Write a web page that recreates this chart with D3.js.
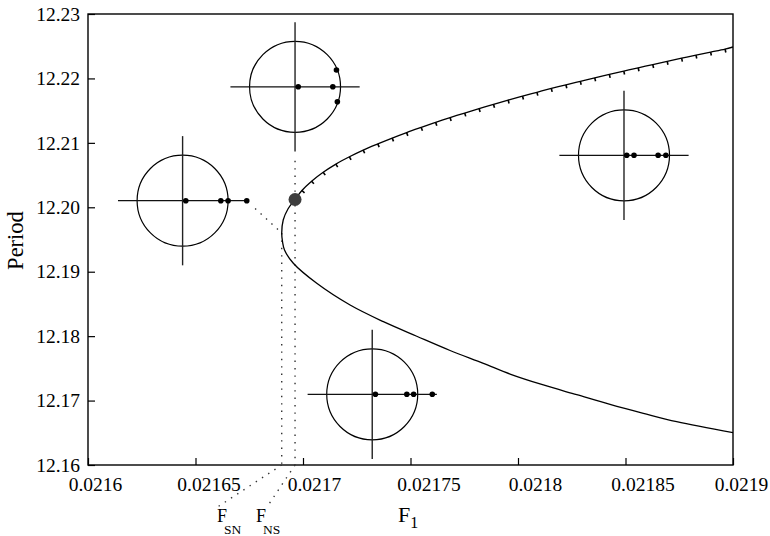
<!DOCTYPE html>
<html>
<head>
<meta charset="utf-8">
<script src="https://cdn.jsdelivr.net/npm/d3@7"></script>
<style>
  html, body { margin: 0; padding: 0; background: #fff; }
  svg { display: block; }
  text { font-family: "Liberation Serif", "Times New Roman", serif; fill: #000; }
</style>
</head>
<body>
<svg id="chart" width="770" height="536"></svg>
<script>
// Axis ticks
const xTicks = [0.0216, 0.02165, 0.0217, 0.02175, 0.0218, 0.02185, 0.0219];
const xTickLabels = ["0.0216", "0.02165", "0.0217", "0.02175", "0.0218", "0.02185", "0.0219"];
const yTicks = [12.16, 12.17, 12.18, 12.19, 12.20, 12.21, 12.22, 12.23];
const yTickLabels = ["12.16", "12.17", "12.18", "12.19", "12.20", "12.21", "12.22", "12.23"];

// Stable branch: from the right edge, through the fold (saddle-node), up towards the NS point
const branchF = [0.02190, 0.0218738, 0.0218583, 0.0218428, 0.0218273, 0.0218118, 0.0217963,
                 0.0217839, 0.0217684, 0.0217529, 0.0217374, 0.0217219, 0.0217064, 0.0216955,
                 0.0216914, 0.0216905, 0.0216901, 0.0216908, 0.0216930];
const branchT = [12.16501, 12.16672, 12.16802, 12.16940, 12.17091, 12.17242, 12.17412,
                 12.17578, 12.17777, 12.17998, 12.18224, 12.18483, 12.18820, 12.19131,
                 12.19337, 12.19461, 12.19601, 12.19803, 12.19973];

// Neimark–Sacker point
const nsF = 0.0216963;
const nsT = 12.20121;
// Saddle-node (fold) point
const snF = 0.0216901;
const snT = 12.19601;

// Marked continuation points beyond the NS point (upper branch)
const meshF = [0.0216995, 0.0217040, 0.0217094, 0.0217153, 0.0217216, 0.0217280, 0.0217348,
               0.0217415, 0.0217482, 0.0217550, 0.0217617, 0.0217684, 0.0217752, 0.0217819,
               0.0217886, 0.0217954, 0.0218021, 0.0218088, 0.0218155, 0.0218223, 0.0218290,
               0.0218357, 0.0218425, 0.0218492, 0.0218559, 0.0218627, 0.0218694, 0.0218761,
               0.0218828, 0.0218896, 0.0218963];
const meshT = [12.20261, 12.20405, 12.20543, 12.20670, 12.20784, 12.20888, 12.20984,
               12.21074, 12.21159, 12.21240, 12.21318, 12.21392, 12.21463, 12.21532,
               12.21598, 12.21664, 12.21726, 12.21785, 12.21844, 12.21900, 12.21955,
               12.22009, 12.22062, 12.22114, 12.22165, 12.22215, 12.22265, 12.22314,
               12.22362, 12.22409, 12.22456];
const upperEndF = 0.02190;
const upperEndT = 12.22488;

// Floquet multiplier diagrams: placement (F1, Period) and multipliers (re, im)
const insetF = [0.0216440, 0.0216963, 0.0218493, 0.0217322];
const insetT = [12.20102, 12.21870, 12.20807, 12.17097];
const multRe = [[0.07, 0.84, 1.00, 1.41],
                [0.07, 0.83, 0.91, 0.93],
                [0.06, 0.22, 0.75, 0.92],
                [0.07, 0.76, 0.91, 1.32]];
const multIm = [[0, 0, 0, 0],
                [0, 0, 0.37, -0.33],
                [0, 0, 0, 0],
                [0, 0, 0, 0]];

const svg = d3.select("#chart");
const margin = { left: 88, right: 37, top: 14, bottom: 71 };
const W = 770, H = 536;

const x = d3.scaleLinear().domain([0.0216, 0.0219]).range([margin.left, W - margin.right]);
const y = d3.scaleLinear().domain([12.16, 12.23]).range([H - margin.bottom, margin.top]);

// Horizontal nudges of the bottom tick labels (px)
const xLabelShift = [7, 13, 11, 18, 17, 17, 8];

// Inward ticks on the bottom and left
const gx = svg.append("g")
  .attr("transform", `translate(0,${y(12.16)})`)
  .call(d3.axisBottom(x).tickValues(xTicks).tickFormat((d, i) => xTickLabels[i])
        .tickSize(-7).tickPadding(12));
const gy = svg.append("g")
  .attr("transform", `translate(${x(0.0216)},0)`)
  .call(d3.axisLeft(y).tickValues(yTicks).tickFormat((d, i) => yTickLabels[i])
        .tickSize(-7).tickPadding(8));
[gx, gy].forEach(g => {
  g.select(".domain").remove();
  g.attr("font-family", null).attr("font-size", null);
  g.selectAll("line").attr("stroke", "#000").attr("stroke-width", 1.2);
  g.selectAll("text").style("font-size", "19.5px");
});
gx.selectAll("text").attr("dx", (d, i) => xLabelShift[i]);

// Plot frame
svg.append("rect")
  .attr("x", x(0.0216)).attr("y", y(12.23))
  .attr("width", x(0.0219) - x(0.0216)).attr("height", y(12.16) - y(12.23))
  .attr("fill", "none").attr("stroke", "#000").attr("stroke-width", 1.4);

svg.append("defs").append("clipPath").attr("id", "plot-clip")
  .append("rect")
  .attr("x", x(0.0216)).attr("y", y(12.23))
  .attr("width", x(0.0219) - x(0.0216)).attr("height", y(12.16) - y(12.23));

const dotted = { stroke: "#333", width: 1.4, dash: "1.4 6" };
function dottedLine(x1, y1, x2, y2) {
  svg.append("line")
    .attr("x1", x1).attr("y1", y1).attr("x2", x2).attr("y2", y2)
    .attr("stroke", dotted.stroke).attr("stroke-width", dotted.width)
    .attr("stroke-dasharray", dotted.dash);
}

// Dotted guides at F_SN and F_NS down to the axis, then to their labels
dottedLine(x(snF), y(snT), x(snF), y(12.16));
dottedLine(x(snF), y(12.16), 216, 508);
const nsTop = y(insetT[1]) + 74;
dottedLine(x(nsF), nsTop, x(nsF), y(12.16));
dottedLine(x(nsF), y(12.16), 269, 504);

// Continuation curve
const curvePts = [];
branchF.forEach((f, i) => curvePts.push([f, branchT[i]]));
curvePts.push([nsF, nsT]);
meshF.forEach((f, i) => curvePts.push([f, meshT[i]]));
curvePts.push([upperEndF, upperEndT]);

const line = d3.line().x(d => x(d[0])).y(d => y(d[1])).curve(d3.curveCatmullRom.alpha(0.5));
svg.append("path")
  .attr("clip-path", "url(#plot-clip)")
  .attr("d", line(curvePts))
  .attr("fill", "none").attr("stroke", "#000").attr("stroke-width", 1.3);

// Small ticks marking the computed points on the upper branch
const meshPx = meshF.map((f, i) => [x(f), y(meshT[i])]);
const meshNeighbours = [[x(nsF), y(nsT)], ...meshPx, [x(upperEndF), y(upperEndT)]];
meshPx.forEach((p, i) => {
  const a = meshNeighbours[i], b = meshNeighbours[i + 2];
  let dx = b[0] - a[0], dy = b[1] - a[1];
  const len = Math.hypot(dx, dy);
  dx /= len; dy /= len;
  let nx = -dy, ny = dx;
  if (ny < 0) { nx = -nx; ny = -ny; }
  svg.append("line")
    .attr("x1", p[0]).attr("y1", p[1])
    .attr("x2", p[0] + nx * 3.5).attr("y2", p[1] + ny * 3.5)
    .attr("stroke", "#000").attr("stroke-width", 1.6);
});

// NS point
svg.append("circle")
  .attr("cx", x(nsF)).attr("cy", y(nsT)).attr("r", 6.5)
  .attr("fill", "#3d3d3d");

// Floquet multiplier diagrams
const unit = d3.scaleLinear().domain([-1, 1]).range([-45.5, 45.5]);
const axisExtent = 1.42;
insetF.forEach((f, k) => {
  const cx = x(f), cy = y(insetT[k]);
  const g = svg.append("g").attr("transform", `translate(${cx},${cy})`);
  g.append("circle").attr("r", unit(1)).attr("fill", "none")
    .attr("stroke", "#000").attr("stroke-width", 1.2);
  g.append("line").attr("x1", unit(-axisExtent)).attr("x2", unit(axisExtent))
    .attr("y1", 0).attr("y2", 0).attr("stroke", "#111").attr("stroke-width", 1.3);
  g.append("line").attr("y1", unit(-axisExtent)).attr("y2", unit(axisExtent))
    .attr("x1", 0).attr("x2", 0).attr("stroke", "#222").attr("stroke-width", 1.4);
  multRe[k].forEach((re, j) => {
    g.append("circle")
      .attr("cx", unit(re)).attr("cy", -unit(multIm[k][j]))
      .attr("r", 2.8).attr("fill", "#000");
  });
});

// Dotted connector from the first diagram towards the fold
{
  const lx = x(insetF[0]) + unit(multRe[0][3]), ly = y(insetT[0]);
  const fx = x(snF), fy = y(snT);
  dottedLine(lx + 0.24 * (fx - lx), ly + 0.24 * (fy - ly), fx, fy);
}

// Axis titles
svg.append("text")
  .attr("transform", `translate(23,${(y(12.16) + y(12.23)) / 2 + 1}) rotate(-90)`)
  .attr("text-anchor", "middle")
  .style("font-size", "22.5px")
  .text("Period");

const f1 = svg.append("text").attr("x", 398).attr("y", 522).style("font-size", "22px");
f1.append("tspan").text("F");
f1.append("tspan").attr("dy", 6).style("font-size", "16px").text("1");

// Bifurcation labels
function bifLabel(xp, sub) {
  svg.append("text").attr("x", xp).attr("y", 521.5).style("font-size", "18px").text("F");
  svg.append("text").attr("x", xp + 7).attr("y", 533.5).style("font-size", "13.5px").text(sub);
}
bifLabel(217, "SN");
bifLabel(256, "NS");
</script>
</body>
</html>
